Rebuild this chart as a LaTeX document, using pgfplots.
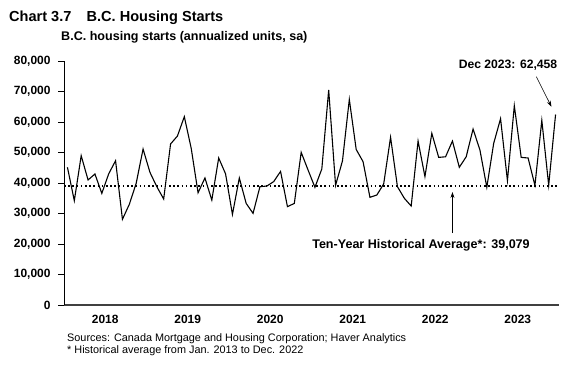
\documentclass[border=0pt]{standalone}
\usepackage{pgfplots}
\pgfplotsset{compat=1.18}
\usepackage{pgfplotstable}
\usepackage{fontspec}
\setmainfont{Liberation Sans}
\usetikzlibrary{arrows.meta}
\pgfplotstableread{
y
45150
34200
48950
41000
42950
36600
43000
47300
28100
33000
39900
51150
43500
38800
34750
52800
55400
61750
51400
36800
41650
34400
48200
43000
29700
41650
33300
30050
38800
39000
40450
43800
32250
33300
50050
44250
38600
44600
70500
39250
47200
67400
51000
47000
35300
36050
39700
55000
38800
35000
32450
53750
42100
56300
48400
48600
53750
45150
48600
57700
50800
38600
53000
61100
40750
65350
48400
48200
39250
60550
39250
62458
}\housing
\begin{document}
\begin{tikzpicture}[x=1bp,y=1bp]
\path[use as bounding box] (0,0) rectangle (570,366);
\begin{axis}[
  at={(64bp,61bp)}, anchor=south west,
  scale only axis, width=495bp, height=244bp,
  xmin=-0.5, xmax=71.5, ymin=0, ymax=80000,
  axis x line=bottom, axis y line=left,
  axis line style={-},
  x axis line style={draw=black!75, line width=1.6bp},
  y axis line style={draw=black, line width=0.8bp},
  xtick={5.5,17.5,29.5,41.5,53.5,65.5},
  xticklabels={2018,2019,2020,2021,2022,2023},
  x tick style={draw=none},
  extra x ticks={-0.5,11.5,23.5,35.5,47.5,59.5,71.5},
  extra x tick labels={},
  extra x tick style={tick style={draw=black, line width=0.8bp}, major tick length=3.5bp, tick align=outside},
  ytick={0,10000,...,80000},
  y tick style={draw=black, line width=0.8bp},
  major tick length=6bp, tick align=outside,
  scaled y ticks=false,
  /pgf/number format/1000 sep={,},
  /pgf/number format/assume math mode=true,
  tick label style={font=\fontsize{12}{14}\selectfont\bfseries},
  yticklabel style={xshift=-4bp},
  xticklabel style={yshift=-1bp},
  clip=false,
]
\addplot[black, line width=1.1bp, line join=miter] table[x expr=\coordindex, y=y] {\housing};
\addplot[black, line width=1.6bp, dash pattern=on 1.6bp off 2.6bp] coordinates {(-0.5,39079) (71.5,39079)};
\draw[-{Stealth[length=6bp,width=4bp]}, line width=0.6bp] (axis cs:68.2,74850) -- (axis cs:70.4,65000);
\draw[-{Stealth[length=6bp,width=4bp]}, line width=0.6bp] (axis cs:56,23600) -- (axis cs:56,37050);
\end{axis}
\node[anchor=base west, inner sep=0, font=\fontsize{14.6}{16}\selectfont\bfseries] at (9,344.3) {Chart 3.7\hspace{1.05em}B.C. Housing Starts};
\node[anchor=base west, inner sep=0, font=\fontsize{12.6}{14}\selectfont\bfseries] at (61,326) {B.C. housing starts (annualized units, sa)};
\node[anchor=base, inner sep=0, font=\fontsize{12.2}{14}\selectfont\bfseries] at (508,297.7) {Dec 2023: 62,458};
\node[anchor=base, inner sep=0, font=\fontsize{12.6}{14}\selectfont\bfseries] at (421,117.3) {Ten-Year Historical Average*: 39,079};
\node[anchor=base west, inner sep=0, font=\fontsize{10.9}{12}\selectfont] at (67,24.3) {Sources: Canada Mortgage and Housing Corporation; Haver Analytics};
\node[anchor=base west, inner sep=0, font=\fontsize{10.9}{12}\selectfont] at (67,12.7) {* Historical average from Jan. 2013 to Dec. 2022};
\end{tikzpicture}
\end{document}
